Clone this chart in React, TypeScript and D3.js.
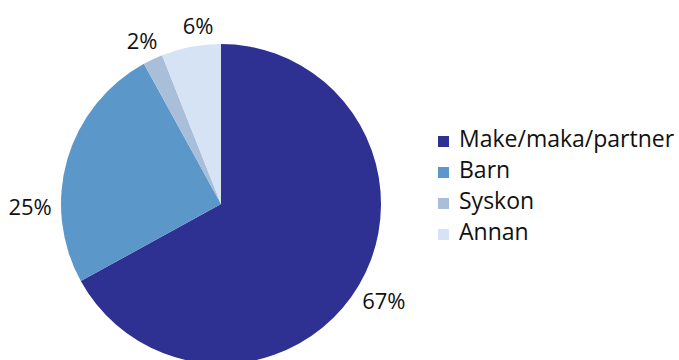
import React from "react";
import * as d3 from "d3";

const categories = ["Make/maka/partner", "Barn", "Syskon", "Annan"];
const values = [67, 25, 2, 6];
const labels = ["67%", "25%", "2%", "6%"];
const colors = ["#2E3192", "#5B97C9", "#A9BED9", "#D5E3F5"];
// label angle (deg, clockwise from top) and radius for each slice label
const labelAngles = [121, 268.8, 334, 352.6];
const labelRadii = [190, 191, 180, 178.5];

const W = 679;
const H = 360;
const cx = 221;
const cy = 204;
const R = 160;

export default function App() {
  const pie = d3.pie<number>().sort(null).startAngle(0).endAngle(2 * Math.PI)(values);
  const arc = d3.arc<d3.PieArcDatum<number>>().innerRadius(0).outerRadius(R);
  const font = "'Open Sans', 'Noto Sans', sans-serif";
  return (
    <svg width={W} height={H} style={{ position: "absolute", left: 0, top: 0 }}>
      <rect width={W} height={H} fill="#fff" />
      <g transform={`translate(${cx},${cy})`}>
        {pie.map((p, i) => (
          <path key={i} d={arc(p) || ""} fill={colors[i]} />
        ))}
        {labels.map((l, i) => {
          const a = (labelAngles[i] * Math.PI) / 180;
          const x = Math.sin(a) * labelRadii[i];
          const y = -Math.cos(a) * labelRadii[i];
          return (
            <text key={i} x={x} y={y + 7} textAnchor="middle"
              fontFamily={font} fontSize={22} fill="#111">{l}</text>
          );
        })}
      </g>
      <g transform="translate(438,0)">
        {categories.map((c, i) => {
          const base = 147 + i * 31;
          return (
            <g key={c}>
              <rect x={0} y={base - 11} width={11} height={11} fill={colors[i]} />
              <text x={21} y={base} fontFamily={font} fontSize={23} fill="#111">{c}</text>
            </g>
          );
        })}
      </g>
    </svg>
  );
}
